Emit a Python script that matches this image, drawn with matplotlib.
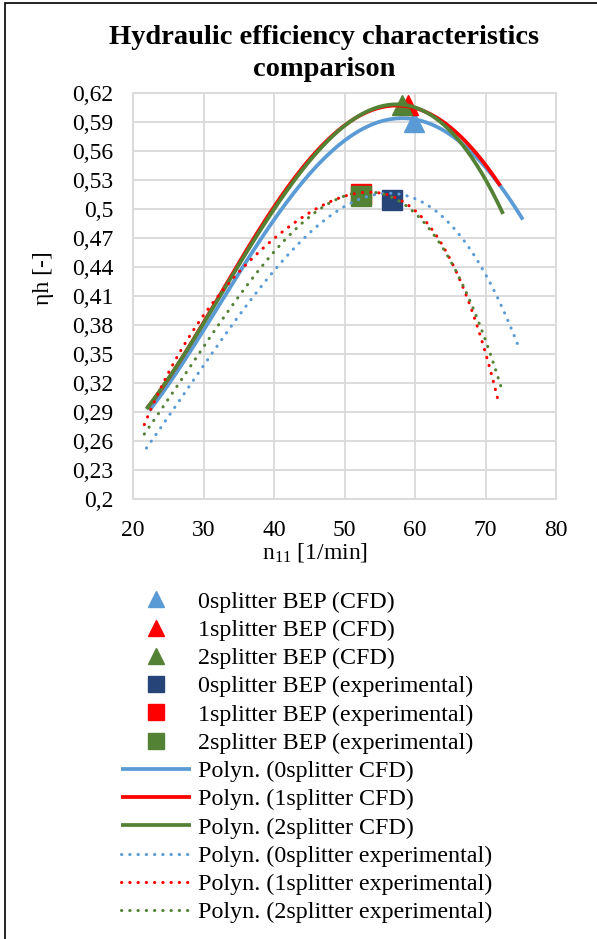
import numpy as np
import matplotlib
matplotlib.use('Agg')
import matplotlib.pyplot as plt
from matplotlib.patches import Rectangle

plt.rcParams['font.family'] = ['Liberation Serif', 'DejaVu Serif']
plt.rcParams['mathtext.fontset'] = 'custom'
plt.rcParams['mathtext.rm'] = 'Liberation Serif'
plt.rcParams['mathtext.it'] = 'Liberation Serif:italic'

# points read along each polynomial trendline (n11, eta_h)
x_cfd0 = [22.3, 25, 30, 35, 40, 45, 50, 55, 60, 65, 70, 75.3]
y_cfd0 = [0.289, 0.322, 0.377, 0.428, 0.489, 0.538, 0.572, 0.588, 0.592, 0.580, 0.540, 0.490]
x_cfd1 = [22.0, 25, 30, 35, 40, 45, 50, 55, 58.5, 60, 65, 70, 72.1]
y_cfd1 = [0.292, 0.328, 0.383, 0.443, 0.497, 0.556, 0.588, 0.602, 0.606, 0.605, 0.585, 0.544, 0.525]
x_cfd2 = [21.9, 25, 30, 35, 40, 45, 50, 55, 58, 60, 65, 70, 72.5]
y_cfd2 = [0.292, 0.327, 0.382, 0.441, 0.495, 0.555, 0.588, 0.603, 0.606, 0.604, 0.583, 0.531, 0.494]

x_exp0 = [21.9, 24.9, 30, 35, 40, 45, 50, 55, 56.5, 60, 65, 70, 74.65]
y_exp0 = [0.251, 0.288, 0.337, 0.388, 0.436, 0.477, 0.502, 0.5155, 0.516, 0.510, 0.486, 0.431, 0.359]
x_exp1 = [21.6, 25, 30, 35, 40, 45, 50, 52.7, 55, 57, 60, 65, 70, 71.8]
y_exp1 = [0.277, 0.332, 0.387, 0.436, 0.470, 0.497, 0.5125, 0.517, 0.516, 0.512, 0.4975, 0.4496, 0.352, 0.301]
x_exp2 = [21.6, 25, 30, 35, 40, 45, 50, 53, 55, 60, 65, 70, 72.3]
y_exp2 = [0.267, 0.306, 0.353, 0.411, 0.4586, 0.492, 0.512, 0.516, 0.515, 0.498, 0.448, 0.3624, 0.3147]

# best efficiency points
bep_cfd_x = [59.8, 59.0, 58.1]
bep_cfd_y = [0.590, 0.607, 0.607]
bep_exp_x = [56.7, 52.3, 52.3]
bep_exp_y = [0.509, 0.515, 0.5135]

names = ['0splitter', '1splitter', '2splitter']
col_light = ['#5B9BD5', '#FF0000', '#548235']
col_sq = ['#264478', '#FF0000', '#548235']

yticks = [0.2, 0.23, 0.26, 0.29, 0.32, 0.35, 0.38, 0.41, 0.44, 0.47, 0.5, 0.53, 0.56, 0.59, 0.62]
ytick_labels = ['0,2', '0,23', '0,26', '0,29', '0,32', '0,35', '0,38', '0,41', '0,44', '0,47', '0,5', '0,53', '0,56', '0,59', '0,62']
xticks = [20, 30, 40, 50, 60, 70, 80]

fig = plt.figure(figsize=(5.97, 9.39), dpi=100)
ax = fig.add_axes([133/597, 1 - 499.4/939, 423/597, 406.6/939])

handles = []
for i in range(3):
    h, = ax.plot(bep_cfd_x[i], bep_cfd_y[i], linestyle='none', marker='^', ms=15,
                 color=col_light[i], zorder=3, label=names[i] + ' BEP (CFD)')
    handles.append(h)
for i in range(3):
    h, = ax.plot(bep_exp_x[i], bep_exp_y[i], linestyle='none', marker='s', ms=14.4,
                 color=col_sq[i], zorder=3, label=names[i] + ' BEP (experimental)')
    handles.append(h)

def trend(xs, ys, deg):
    p = np.polyfit(xs, ys, deg)
    xx = np.linspace(xs[0], xs[-1], 200)
    return xx, np.polyval(p, xx)

cfd = [(x_cfd0, y_cfd0), (x_cfd1, y_cfd1), (x_cfd2, y_cfd2)]
exp = [(x_exp0, y_exp0), (x_exp1, y_exp1), (x_exp2, y_exp2)]
for i in range(3):
    xx, yy = trend(*cfd[i], 4)
    h, = ax.plot(xx, yy, color=col_light[i], lw=2.7, solid_capstyle='butt', zorder=4,
                 label='Polyn. (' + names[i] + ' CFD)')
    handles.append(h)
for i in range(3):
    xx, yy = trend(*exp[i], 4)
    h, = ax.plot(xx, yy, color=col_light[i], lw=2.2, linestyle=(0, (0.1, 2.6)),
                 dash_capstyle='round', zorder=4,
                 label='Polyn. (' + names[i] + ' experimental)')
    handles.append(h)

ax.set_xlim(20, 80)
ax.set_ylim(0.2, 0.62)
ax.set_xticks(xticks)
ax.set_yticks(yticks)
ax.set_yticklabels(ytick_labels)
ax.tick_params(axis='both', length=0, labelsize=17)
ax.tick_params(axis='y', pad=14)
ax.tick_params(axis='x', pad=15)
ax.grid(True, color='#D9D9D9', lw=1.3)
ax.set_axisbelow(True)
for s in ax.spines.values():
    s.set_color('#D9D9D9')
    s.set_linewidth(1.3)

fig.text(315/597, 1 - 553/939, r'n$_{\mathrm{11}}$ [1/min]', fontsize=17, ha='center', va='center')
fig.text(43/597, 1 - 278/939, 'ηh [-]', fontsize=17, ha='center', va='center', rotation=90)

fig.text(324/597, 1 - 37/939, 'Hydraulic efficiency characteristics', fontsize=20.5,
         fontweight='bold', ha='center', va='center')
fig.text(324/597, 1 - 69/939, 'comparison', fontsize=20.5,
         fontweight='bold', ha='center', va='center')

fig.legend(handles=handles, loc='upper left', bbox_to_anchor=(121/597, 1 - 591/939),
           frameon=False, fontsize=17.25, handlelength=2.92, handletextpad=0.3,
           labelspacing=0.27, borderpad=0, borderaxespad=0, numpoints=1,
           markerscale=0.78)

fig.patches.append(Rectangle((5/597, -0.1), 1.2, 1.1 - 3/939, transform=fig.transFigure,
                             fill=False, edgecolor='black', lw=1.2))

fig.savefig('out.png', dpi=100, facecolor='white')
